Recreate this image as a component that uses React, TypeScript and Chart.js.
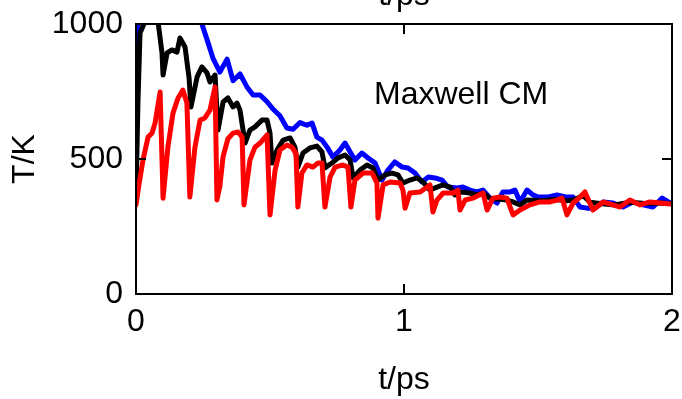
import React, { useEffect, useRef } from "react";
import { Chart, registerables } from "chart.js";

Chart.register(...registerables);

// Red series (t in ps, T in K)
const redT = [0.000, 0.011, 0.026, 0.045, 0.060, 0.071, 0.090, 0.101, 0.119, 0.138, 0.157, 0.175, 0.190, 0.201, 0.220, 0.239, 0.257, 0.276, 0.295, 0.302, 0.313, 0.325, 0.343, 0.362, 0.381, 0.396, 0.403, 0.425, 0.444, 0.463, 0.489, 0.500, 0.519, 0.537, 0.563, 0.582, 0.597, 0.604, 0.619, 0.638, 0.660, 0.679, 0.694, 0.705, 0.724, 0.743, 0.772, 0.791, 0.802, 0.817, 0.847, 0.881, 0.899, 0.903, 0.922, 0.948, 0.985, 0.996, 1.004, 1.022, 1.060, 1.097, 1.108, 1.123, 1.146, 1.183, 1.201, 1.209, 1.228, 1.257, 1.295, 1.310, 1.332, 1.358, 1.384, 1.396, 1.407, 1.433, 1.470, 1.507, 1.545, 1.571, 1.590, 1.608, 1.631, 1.657, 1.675, 1.705, 1.743, 1.780, 1.806, 1.843, 1.881, 1.918, 1.955, 1.993];
const redK = [330, 404, 496, 581, 596, 633, 748, 355, 544, 670, 726, 755, 707, 359, 544, 644, 652, 681, 767, 348, 400, 510, 575, 596, 600, 581, 330, 496, 544, 559, 589, 293, 459, 533, 552, 544, 520, 322, 448, 478, 470, 485, 485, 322, 433, 470, 478, 470, 322, 422, 448, 448, 411, 281, 404, 415, 411, 385, 318, 374, 378, 404, 304, 348, 374, 374, 385, 311, 348, 355, 374, 311, 355, 359, 355, 322, 293, 311, 330, 341, 341, 348, 355, 293, 337, 359, 378, 311, 341, 330, 322, 348, 330, 341, 337, 333];

// Black series
const blackT = [0.000, 0.007, 0.015, 0.034, 0.052, 0.071, 0.082, 0.097, 0.101, 0.116, 0.134, 0.153, 0.164, 0.183, 0.198, 0.205, 0.228, 0.246, 0.265, 0.276, 0.295, 0.306, 0.325, 0.343, 0.362, 0.377, 0.388, 0.407, 0.425, 0.444, 0.470, 0.489, 0.500, 0.507, 0.526, 0.549, 0.575, 0.593, 0.604, 0.623, 0.649, 0.675, 0.694, 0.705, 0.731, 0.754, 0.780, 0.799, 0.810, 0.836, 0.862, 0.884, 0.903, 0.929, 0.955, 0.978, 0.996, 1.022, 1.049, 1.071, 1.097, 1.123, 1.146, 1.172, 1.190, 1.216, 1.246, 1.272, 1.295, 1.321, 1.347, 1.384, 1.407, 1.433, 1.459, 1.507, 1.563, 1.608, 1.638, 1.668, 1.694, 1.731, 1.787, 1.843, 1.899, 1.955, 1.993];
const blackK = [350, 700, 967, 1010, 1050, 1040, 1010, 893, 811, 893, 904, 896, 948, 915, 800, 693, 804, 841, 819, 785, 811, 607, 711, 726, 693, 707, 681, 559, 607, 619, 644, 644, 596, 485, 533, 570, 578, 544, 470, 522, 541, 548, 526, 467, 485, 504, 515, 496, 430, 459, 478, 467, 422, 441, 448, 441, 411, 422, 430, 415, 385, 396, 404, 396, 367, 378, 374, 367, 374, 355, 352, 348, 341, 330, 348, 345, 350, 345, 350, 365, 340, 335, 330, 340, 335, 337, 335];

// Blue series
const blueT = [0.000, 0.008, 0.050, 0.100, 0.150, 0.200, 0.236, 0.246, 0.269, 0.287, 0.313, 0.340, 0.362, 0.388, 0.414, 0.437, 0.463, 0.489, 0.511, 0.537, 0.563, 0.586, 0.612, 0.638, 0.657, 0.675, 0.694, 0.713, 0.735, 0.761, 0.780, 0.799, 0.817, 0.843, 0.866, 0.892, 0.918, 0.940, 0.966, 0.993, 1.015, 1.041, 1.067, 1.090, 1.116, 1.142, 1.164, 1.198, 1.220, 1.246, 1.272, 1.295, 1.321, 1.347, 1.369, 1.396, 1.414, 1.433, 1.459, 1.481, 1.500, 1.534, 1.571, 1.608, 1.631, 1.657, 1.683, 1.713, 1.743, 1.780, 1.817, 1.854, 1.892, 1.929, 1.963, 1.993];
const blueK = [480, 1100, 1500, 1600, 1400, 1200, 1050, 1000, 930, 874, 822, 870, 790, 815, 767, 737, 737, 712, 685, 660, 615, 610, 635, 625, 633, 581, 570, 544, 507, 533, 559, 526, 496, 522, 504, 485, 422, 459, 489, 470, 467, 448, 415, 433, 430, 422, 396, 393, 396, 385, 378, 385, 355, 337, 378, 378, 385, 341, 385, 367, 359, 359, 367, 359, 359, 322, 318, 318, 341, 337, 322, 341, 330, 322, 355, 337];

const xTicks = [0, 1, 2];
const yTicks = [0, 500, 1000];
const xLabel = "t/ps";
const yLabel = "T/K";
const annotationText = "Maxwell CM";
const annotationT = 0.888;
const annotationK = 704;

const FONT = "'Liberation Sans', Arial, Helvetica, sans-serif";

const toPoints = (ts: number[], ks: number[]) => ts.map((t, i) => ({ x: t, y: ks[i] }));

export default function App() {
  const ref = useRef<HTMLCanvasElement>(null);

  useEffect(() => {
    if (!ref.current) return;
    const framePlugin = {
      id: "frame",
      afterDatasetsDraw(chart: any) {
        const { ctx, chartArea: a } = chart;
        const x = chart.scales.x;
        const y = chart.scales.y;
        ctx.save();
        ctx.strokeStyle = "#000";
        ctx.lineWidth = 2;
        ctx.strokeRect(a.left, a.top, a.right - a.left, a.bottom - a.top);
        ctx.beginPath();
        for (const v of xTicks) {
          const px = x.getPixelForValue(v);
          ctx.moveTo(px, a.bottom);
          ctx.lineTo(px, a.bottom - 10);
          ctx.moveTo(px, a.top);
          ctx.lineTo(px, a.top + 10);
        }
        for (const v of yTicks) {
          const py = y.getPixelForValue(v);
          ctx.moveTo(a.left, py);
          ctx.lineTo(a.left + 10, py);
          ctx.moveTo(a.right, py);
          ctx.lineTo(a.right - 10, py);
        }
        ctx.stroke();
        ctx.fillStyle = "#000";
        ctx.font = `32px ${FONT}`;
        ctx.textBaseline = "alphabetic";
        ctx.textAlign = "left";
        ctx.fillText(annotationText, x.getPixelForValue(annotationT), y.getPixelForValue(annotationK));
        ctx.textAlign = "center";
        ctx.fillText(xLabel, (a.left + a.right) / 2, 4.5);
        ctx.restore();
      },
    };

    const tickFont = { family: FONT, size: 32 };
    const chart = new Chart(ref.current, {
      type: "line",
      data: {
        datasets: [
          { data: toPoints(redT, redK), borderColor: "#ff0000", backgroundColor: "#ff0000" },
          { data: toPoints(blackT, blackK), borderColor: "#000000", backgroundColor: "#000000" },
          { data: toPoints(blueT, blueK), borderColor: "#0000ff", backgroundColor: "#0000ff" },
        ],
      },
      options: {
        responsive: false,
        animation: false,
        devicePixelRatio: 1,
        layout: { padding: { left: 0, right: 10, top: 24, bottom: 0 } },
        plugins: { legend: { display: false }, tooltip: { enabled: false } },
        elements: {
          point: { radius: 0 },
          line: { tension: 0, borderWidth: 5, borderJoinStyle: "round", borderCapStyle: "round", fill: false },
        },
        scales: {
          x: {
            type: "linear",
            min: 0,
            max: 2,
            ticks: { stepSize: 1, padding: 9, color: "#000", font: tickFont, maxRotation: 0, callback: (v: any) => String(v) },
            grid: { display: false, drawTicks: false },
            border: { display: false },
            title: { display: true, text: xLabel, color: "#000", font: tickFont, padding: { top: 0, bottom: 0 } },
            afterFit(s: any) { s.height = 105; s.paddingLeft = 0; s.paddingRight = 0; },
          },
          y: {
            type: "linear",
            min: 0,
            max: 1000,
            ticks: { stepSize: 500, padding: 13, color: "#000", font: tickFont, callback: (v: any) => String(v) },
            grid: { display: false, drawTicks: false },
            border: { display: false },
            title: { display: true, text: yLabel, color: "#000", font: tickFont, padding: { top: 6, bottom: 0 } },
            afterFit(s: any) { s.width = 136; s.paddingTop = 0; s.paddingBottom = 0; },
          },
        },
      },
      plugins: [framePlugin],
    } as any);
    return () => chart.destroy();
  }, []);

  return (
    <div style={{ position: "absolute", left: 0, top: 0, width: 682, height: 399 }}>
      <canvas ref={ref} width={682} height={399} style={{ width: 682, height: 399, display: "block" }} />
    </div>
  );
}
